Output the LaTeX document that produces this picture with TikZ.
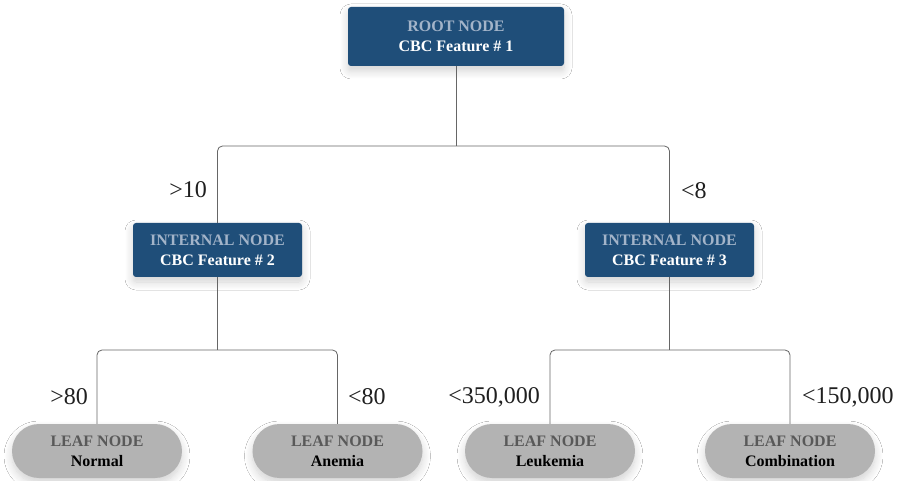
\documentclass[tikz,border=0pt]{standalone}
\usepackage{fontspec}
\setmainfont{Liberation Serif}
\usetikzlibrary{shadows.blur}
\definecolor{navy}{HTML}{1F4E79}
\definecolor{navyhead}{HTML}{A3B4C9}
\definecolor{leafgray}{HTML}{B3B3B3}
\definecolor{leafhead}{HTML}{595959}
\definecolor{wire}{HTML}{666666}
\tikzset{
  soft/.style={blur shadow={shadow xshift=0pt, shadow yshift=-5pt, shadow blur radius=8pt, shadow blur steps=12, shadow opacity=18}},
  darkbox/.style={soft, fill=navy, rounded corners=3pt, text=white, align=center,
    font=\bfseries\fontsize{16}{20}\selectfont, inner sep=0pt},
  leafbox/.style={soft, fill=leafgray, rounded corners=27pt, text=black, align=center,
    minimum width=170pt, minimum height=54pt, inner sep=0pt,
    font=\bfseries\fontsize{16}{20}\selectfont},
  cond/.style={font=\fontsize{24}{28}\selectfont, inner sep=0pt, text=black!88},
  wirestyle/.style={draw=wire, line width=0.8pt, rounded corners=5pt}
}
\begin{document}
\begin{tikzpicture}[x=1pt,y=-1pt]
\useasboundingbox (0,0) rectangle (898,481);
\fill[white] (0,0) rectangle (898,481);

% decision nodes
\node[darkbox, minimum width=216pt, minimum height=59pt] (root) at (456,36.5)
  {\fontsize{16}{23}\selectfont\textcolor{navyhead}{ROOT NODE}\\CBC Feature \# 1};
\node[darkbox, minimum width=169pt, minimum height=54pt] (int2) at (217.5,250)
  {\textcolor{navyhead}{INTERNAL NODE}\\CBC Feature \# 2};
\node[darkbox, minimum width=169pt, minimum height=54pt] (int3) at (669.5,250)
  {\textcolor{navyhead}{INTERNAL NODE}\\CBC Feature \# 3};

% leaves
\node[leafbox] (normal) at (97,451) {\textcolor{leafhead}{LEAF NODE}\\Normal};
\node[leafbox] (anemia) at (337.5,451) {\textcolor{leafhead}{LEAF NODE}\\Anemia};
\node[leafbox] (leuk) at (550,451) {\textcolor{leafhead}{LEAF NODE}\\Leukemia};
\node[leafbox] (comb) at (790,451) {\textcolor{leafhead}{LEAF NODE}\\Combination};

% bus points
\coordinate (bus1) at (456,146);
\coordinate (bus2) at (217.5,350);
\coordinate (bus3) at (669.5,350);

% connectors
\draw[wirestyle] (root.south) -- (bus1);
\draw[wirestyle] (int2.north) |- (bus1) -| (int3.north);
\draw[wirestyle] (int2.south) -- (bus2);
\draw[wirestyle] (normal.north) |- (bus2) -| (anemia.north);
\draw[wirestyle] (int3.south) -- (bus3);
\draw[wirestyle] (leuk.north) |- (bus3) -| (comb.north);

% split conditions
\node[cond, anchor=east] (c1) at (207,190) {>10};
\node[cond, anchor=west] (c2) at (681,191) {<8};
\node[cond, anchor=east] (c3) at (88,397) {>80};
\node[cond, anchor=west] (c4) at (348,397) {<80};
\node[cond, anchor=east] (c5) at (540,397) {<350,000};
\node[cond, anchor=west] (c6) at (802,397) {<150,000};
\end{tikzpicture}
\end{document}
